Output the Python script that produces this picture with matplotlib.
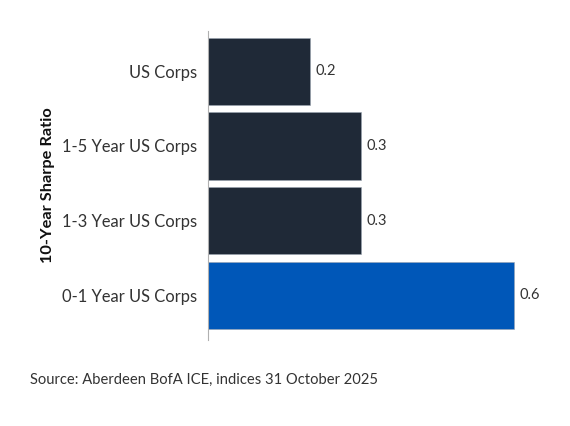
import matplotlib.pyplot as plt

categories = ['US Corps', '1-5 Year US Corps', '1-3 Year US Corps', '0-1 Year US Corps']
sharpe = [0.2, 0.3, 0.3, 0.6]
bar_colors = ['#1f2937', '#1f2937', '#1f2937', '#0057b8']
value_labels = ['0.2', '0.3', '0.3', '0.6']

plt.rcParams['font.family'] = ['Lato', 'DejaVu Sans']

fig = plt.figure(figsize=(5.7, 4.26), dpi=100)
ax = fig.add_axes([208 / 570, 86 / 426, 357 / 570, 309 / 426])

ypos = list(range(len(categories)))
bars = ax.barh(ypos, sharpe, height=0.9, color=bar_colors,
               edgecolor='#9aa4b0', linewidth=0.4)

for bar, lab in zip(bars, value_labels):
    ax.text(bar.get_width() + 0.01, bar.get_y() + bar.get_height() / 2, lab,
            va='center', ha='left', fontsize=10.5, color='#333333')

ax.set_yticks(ypos)
ax.set_yticklabels(categories, fontsize=11.9, color='#333333')
ax.set_ylim(3.6, -0.54)
ax.set_xlim(0, 0.7)
ax.tick_params(axis='y', length=0, pad=8)
ax.set_xticks([])
for side in ['top', 'right', 'bottom']:
    ax.spines[side].set_visible(False)
ax.spines['left'].set_color('#b0b0b0')
ax.spines['left'].set_linewidth(0.8)

ax.set_ylabel('10-Year Sharpe Ratio', fontsize=11.8, fontweight='bold',
              color='#111111', labelpad=5)

fig.text(30 / 570, 1 - 380 / 426, 'Source: Aberdeen BofA ICE, indices 31 October 2025',
         fontsize=10.6, color='#333333', va='center', ha='left')

fig.savefig('out.png', dpi=100, facecolor='white')
